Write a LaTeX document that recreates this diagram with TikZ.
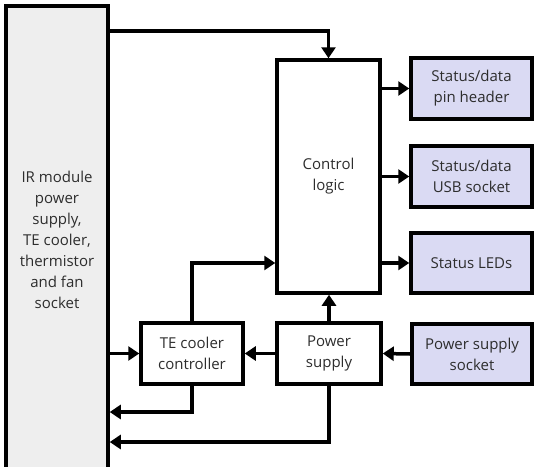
\documentclass[tikz,border=0pt]{standalone}
\usepackage{fontspec}
\setmainfont{Open Sans}
\usetikzlibrary{arrows.meta}
\definecolor{irgray}{RGB}{238,238,238}
\definecolor{extblue}{RGB}{218,218,243}
\definecolor{txt}{RGB}{45,45,45}
\begin{document}
\begin{tikzpicture}[x=1pt,y=-1pt,
  blk/.style={draw=black,line width=3.5pt,align=center,inner sep=0pt,
    font=\fontsize{15}{21}\selectfont,text=txt},
  extbox/.style={blk,fill=extblue},
  arr/.style={line width=3.5pt,-{Triangle[length=11pt,width=14pt]}},
  ln/.style={line width=3.5pt}]
\useasboundingbox (0,0) rectangle (534,466);
\clip (0,0) rectangle (534,466);
\node[blk,fill=irgray,minimum width=102pt,minimum height=468pt] (ir) at (57,240) {IR module\\power\\supply,\\TE cooler,\\thermistor\\and fan\\socket};
\node[blk,minimum width=103pt,minimum height=233pt] (ctrl) at (328.5,176.5) {Control\\logic};
\node[extbox,minimum width=121pt,minimum height=61pt] (pin) at (471.5,88.5) {Status/data\\pin header};
\node[extbox,minimum width=121pt,minimum height=61pt] (usb) at (471.5,176.5) {Status/data\\USB socket};
\node[extbox,minimum width=121pt,minimum height=60pt] (leds) at (471.5,263) {Status LEDs};
\node[extbox,minimum width=120pt,minimum height=60pt] (sock) at (472,354) {Power supply\\socket};
\node[blk,minimum width=104pt,minimum height=61pt] (ps) at (329,353.5) {Power\\supply};
\node[blk,minimum width=102pt,minimum height=61pt] (te) at (192,353.5) {TE cooler\\controller};
\coordinate (ytop) at (0,31);
\coordinate (yte) at (0,412);
\coordinate (yps) at (0,442);
\draw[arr] (ir.east |- ytop) -| (ctrl.north);
\draw[arr] (ctrl.east |- pin) -- (pin.west);
\draw[arr] (ctrl.east |- usb) -- (usb.west);
\draw[arr] (ctrl.east |- leds) -- (leds.west);
\draw[arr] (sock.west) -- (ps.east);
\draw[arr] (ps.north) -- (ps.north |- ctrl.south);
\draw[arr] (ps.west) -- (te.east);
\draw[arr] (ir.east |- te) -- (te.west);
\draw[arr] (te.north) |- (ctrl.west |- leds);
\draw[arr] (te.south) |- (ir.east |- yte);
\draw[arr] (ps.south) |- (ir.east |- yps);
\end{tikzpicture}
\end{document}
